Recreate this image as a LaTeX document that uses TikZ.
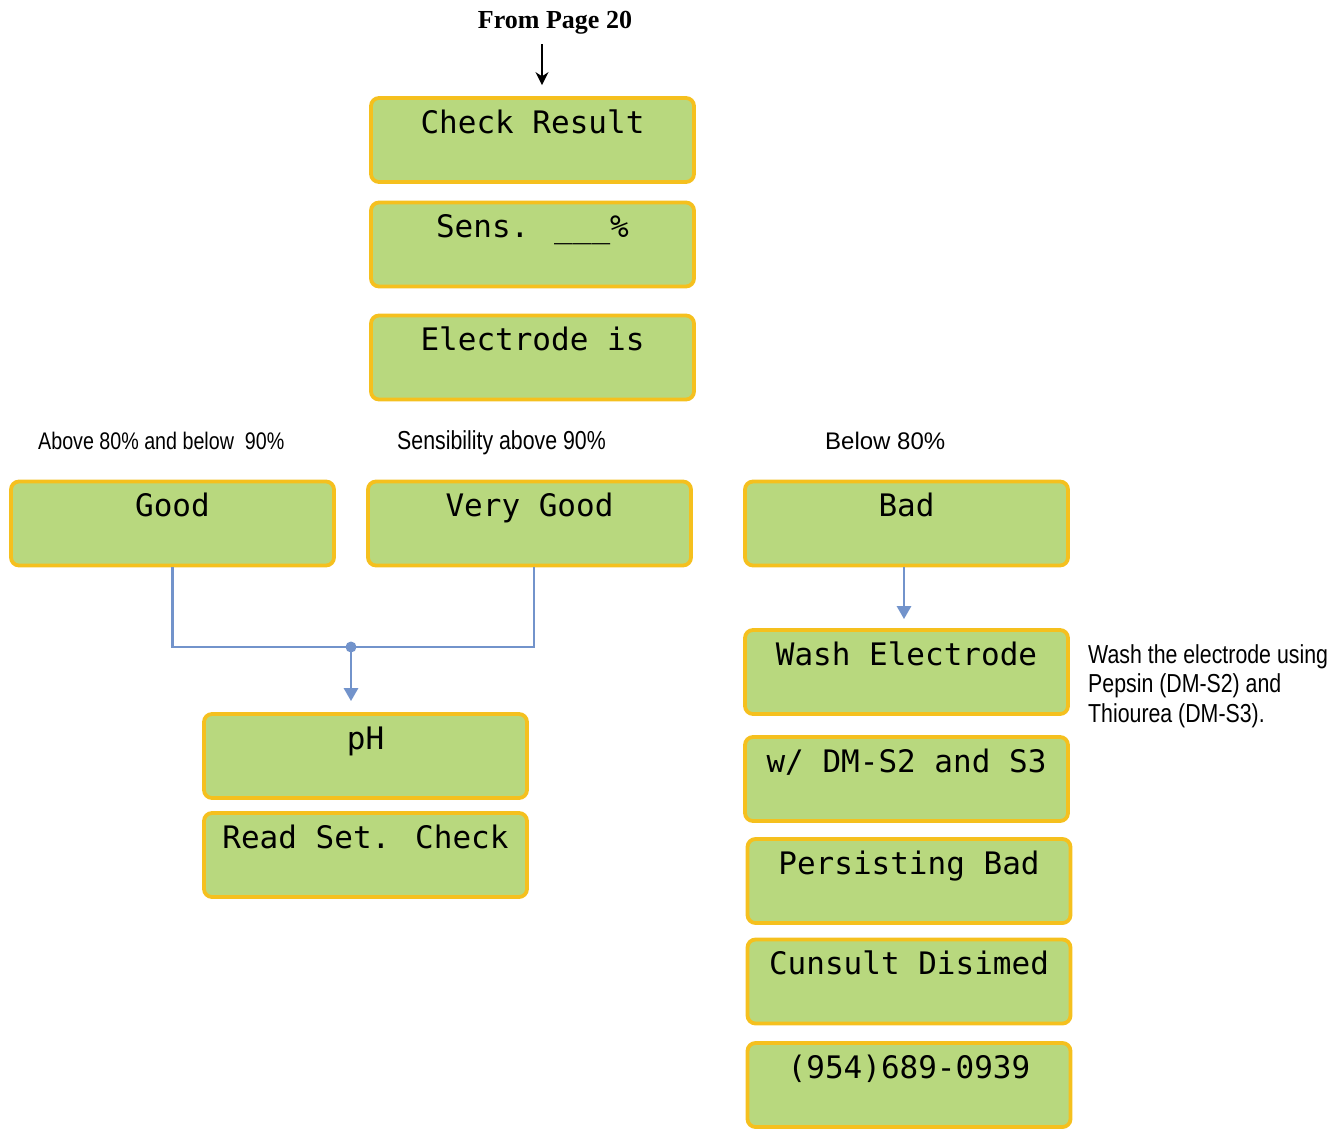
\documentclass[tikz,border=0pt]{standalone}
\usepackage{fontspec}
\usetikzlibrary{arrows.meta}
\newfontfamily\lcdfont{DejaVu Sans Mono}
\newfontfamily\labelfont{Liberation Sans}
\newfontfamily\headfont{Liberation Serif}
\newfontfamily\narrowfont[FakeStretch=0.82]{Liberation Sans}
\definecolor{lcdgreen}{RGB}{184,216,126}
\definecolor{lcdframe}{RGB}{245,192,30}
\definecolor{linkblue}{RGB}{114,147,203}
\tikzset{
  lcd/.style={draw=lcdframe, fill=lcdgreen, line width=3.8pt, rounded corners=8pt,
    minimum width=323pt, minimum height=84pt, inner sep=0pt},
  lcdtext/.style={font=\lcdfont\fontsize{31}{31}\selectfont, anchor=base, inner sep=0pt},
  link/.style={draw=linkblue, line width=2.8pt},
  linkarrow/.style={link, -{Triangle[width=14pt,length=13pt]}},
  cond/.style={font=\narrowfont\fontsize{26}{29.5}\selectfont, anchor=base west, inner sep=0pt},
  note/.style={font=\narrowfont\fontsize{26}{29.5}\selectfont, anchor=north west,
    align=left, inner sep=0pt},
}
\newcommand{\lcdbox}[3]{%
  \node[lcd] (#1) at (#2) {};
  \node[lcdtext] (#1txt) at ([yshift=-37pt]#1.north) {#3};
}
\begin{document}
\begin{tikzpicture}[x=1pt, y=-1pt]
  \useasboundingbox (0,0) rectangle (1344,1128);

  % entry from previous page
  \node[font=\headfont\bfseries\fontsize{26}{26}\selectfont, anchor=base, inner sep=0pt] (src) at (555,28) {From Page 20};
  \coordinate (entry) at (542,44);

  % main display sequence
  \lcdbox{check}{532.5,140}{Check Result}
  \lcdbox{sens}{532.5,244.5}{Sens. {\char95}{\char95}{\char95}\%}
  \lcdbox{elec}{532.5,357.5}{Electrode is}

  % outcome labels
  \node[cond, font=\narrowfont\fontsize{24}{24}\selectfont] (lblgood) at (38,449) {Above 80\% and below\ \ 90\%};
  \node[cond] (lblvgood) at (397,449) {Sensibility above 90\%};
  \node[font=\labelfont\fontsize{24}{24}\selectfont, anchor=base west, inner sep=0pt] (lblbad) at (825,449) {Below 80\%};

  % outcomes
  \lcdbox{good}{172.5,523.5}{Good}
  \lcdbox{vgood}{529.5,523.5}{Very Good}
  \lcdbox{bad}{906.5,523.5}{Bad}

  % good path
  \lcdbox{ph}{365.5,756}{pH}
  \lcdbox{read}{365.5,855}{Read Set. Check}

  % bad path
  \lcdbox{wash}{906.5,672}{Wash Electrode}
  \lcdbox{dm}{906.5,779}{w/ DM-S2 and S3}
  \lcdbox{pers}{909,881}{Persisting Bad}
  \lcdbox{cons}{909,981.5}{Cunsult Disimed}
  \lcdbox{phone}{909,1085}{(954)689-0939}

  \node[note] (washnote) at (1088,644) {Wash the electrode using\\Pepsin (DM-S2) and\\Thiourea (DM-S3).};

  % connectors
  \draw[line width=2.6pt, -{Stealth[width=13pt,length=13pt]}, shorten >=11pt] (entry) -- (entry |- check.north);

  \coordinate (join) at (351,647);
  \draw[link] (good.south) |- (join) -| ([xshift=4.5pt]vgood.south);
  \fill[linkblue] (join) circle (5.5pt);
  \draw[linkarrow, shorten >=11pt] (join) -- (join |- ph.north);
  \draw[linkarrow, shorten >=9pt] ([xshift=-2.5pt]bad.south) -- ([xshift=-2.5pt]wash.north);
\end{tikzpicture}
\end{document}
